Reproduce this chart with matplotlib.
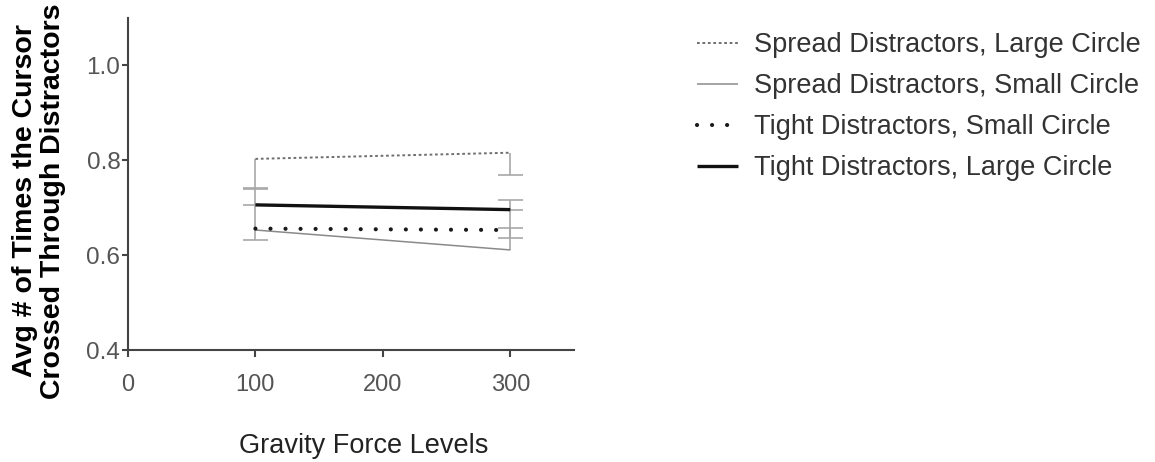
import numpy as np
import matplotlib as mpl
mpl.use("Agg")
import matplotlib.pyplot as plt

plt.rcParams['font.family'] = ['Liberation Sans', 'DejaVu Sans']

gravity = [100, 300]

series = [
    "Spread Distractors, Large Circle",
    "Spread Distractors, Small Circle",
    "Tight Distractors, Small Circle",
    "Tight Distractors, Large Circle",
]

# mean crossings per condition
spread_large = [0.803, 0.816]
spread_small = [0.653, 0.611]
tight_small = [0.656, 0.653]
tight_large = [0.706, 0.696]

# one-sided SEM bars (lower, upper)
spread_large_err = [[0.063, 0.046], [0.0, 0.0]]
spread_small_err = [[0.0, 0.0], [0.053, 0.085]]
tight_small_err = [[0.024, 0.016], [0.0, 0.005]]
tight_large_err = [[0.0, 0.0], [0.035, 0.020]]

styles = [
    {'color': '#6e6e6e', 'lw': 1.4, 'ls': (0, (1.4, 1.4)), 'cap': 'butt'},
    {'color': '#8a8a8a', 'lw': 1.1, 'ls': '-', 'cap': 'butt'},
    {'color': '#1a1a1a', 'lw': 3.0, 'ls': (0, (0.01, 3.6)), 'cap': 'round'},
    {'color': '#111111', 'lw': 2.4, 'ls': '-', 'cap': 'butt'},
]

values = [spread_large, spread_small, tight_small, tight_large]
errors = [spread_large_err, spread_small_err, tight_small_err, tight_large_err]

fig = plt.figure(figsize=(11.55, 4.62), dpi=100)
ax = fig.add_axes([0.1108, 0.2424, 0.3862, 0.7186])

err_color = '#a8a8a8'
for name, y, err, s in zip(series, values, errors, styles):
    # draw only the side of each bar that has a value, capped at its far end
    for xi, yi, lo, hi in zip(gravity, y, err[0], err[1]):
        for d in (-lo, hi):
            if d != 0:
                ax.vlines(xi, yi, yi + d, color=err_color, lw=1.2, zorder=2)
                ax.plot([xi], [yi + d], marker='_', ms=18, mew=1.2,
                        color=err_color, zorder=2)
    ax.plot(gravity, y, color=s['color'], lw=s['lw'], ls=s['ls'],
            dash_capstyle=s['cap'], solid_capstyle='butt', label=name, zorder=3)

ax.set_xlim(0, 350)
ax.set_ylim(0.4, 1.1)
ax.set_xticks([0, 100, 200, 300])
ax.set_yticks([0.4, 0.6, 0.8, 1.0])
ax.set_yticklabels(['0.4', '0.6', '0.8', '1.0'])

for side in ['top', 'right']:
    ax.spines[side].set_visible(False)
for side in ['left', 'bottom']:
    ax.spines[side].set_color('#444444')
    ax.spines[side].set_linewidth(1.5)

ax.tick_params(axis='x', direction='out', length=5, width=1.5, color='#444444',
               labelsize=17, labelcolor='#555555', pad=12)
ax.tick_params(axis='y', direction='out', length=4.5, width=1.5, color='#444444',
               labelsize=17.5, labelcolor='#555555', pad=1)

ax.set_xlabel("Gravity Force Levels", fontsize=19.5, color='#222222')
ax.xaxis.set_label_coords(0.529, -0.25)

fig.text(0.034, 0.565, "Avg # of Times the Cursor\nCrossed Through Distractors",
         rotation=90, ha='center', va='center', multialignment='center',
         fontsize=20.5, fontweight='bold', color='black', linespacing=1.08)

leg = ax.legend(loc='upper left', bbox_to_anchor=(0.6035, 0.93),
                bbox_transform=fig.transFigure, frameon=False, fontsize=19.5,
                handlelength=1.5, handletextpad=0.62, labelspacing=0.55,
                borderpad=0, borderaxespad=0)
for t in leg.get_texts():
    t.set_color('#333333')

fig.savefig("out.png", dpi=100)
